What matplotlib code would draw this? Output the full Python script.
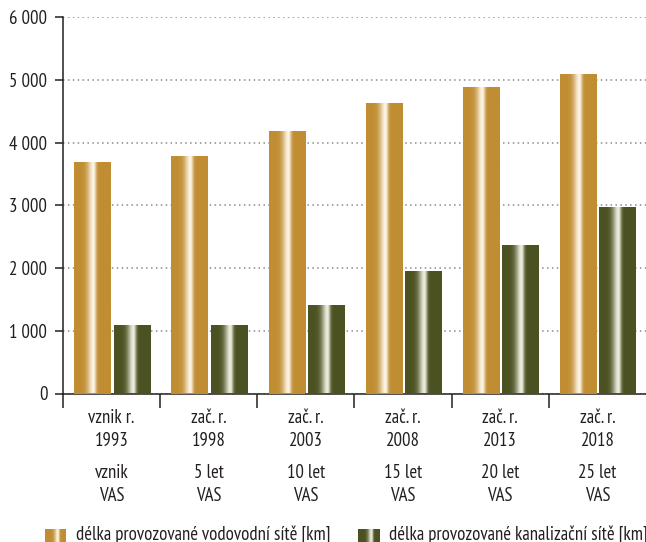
import numpy as np
import matplotlib
matplotlib.use("Agg")
import matplotlib.pyplot as plt
from matplotlib.ticker import FuncFormatter, FixedLocator
from matplotlib import transforms

plt.rcParams['font.family'] = ['PT Sans Narrow', 'DejaVu Sans']

# --- data -------------------------------------------------------------
year_lines = [("vznik r.", "1993"), ("zač. r.", "1998"), ("zač. r.", "2003"),
              ("zač. r.", "2008"), ("zač. r.", "2013"), ("zač. r.", "2018")]
anniversary_lines = [("vznik", "VAS"), ("5 let", "VAS"), ("10 let", "VAS"),
                     ("15 let", "VAS"), ("20 let", "VAS"), ("25 let", "VAS")]
water_km = [3690, 3780, 4190, 4630, 4890, 5100]
sewer_km = [1090, 1090, 1410, 1955, 2370, 2970]
series_labels = ["délka provozované vodovodní sítě [km]",
                 "délka provozované kanalizační sítě [km]"]
y_ticks = [0, 1000, 2000, 3000, 4000, 5000, 6000]

GOLD = np.array([192, 141, 50]) / 255
OLIVE = np.array([76, 81, 34]) / 255
GOLD_PEAK = [252, 244, 228]
OLIVE_PEAK = [236, 236, 222]
TEXT = "#231f20"
FS = 13.5


def shine(base, peak, n=200, centre=0.53):
    """Horizontal metallic gradient with a bright stripe."""
    t = np.linspace(0, 1, n)
    s = np.where(t < centre, 0.16, 0.075)
    w = np.exp(-((t - centre) / s) ** 2)
    peak = np.asarray(peak) / 255
    rgb = base[None, :] * (1 - w[:, None]) + peak[None, :] * w[:, None]
    return rgb[None, :, :]


gold_img = shine(GOLD, GOLD_PEAK)
olive_img = shine(OLIVE, OLIVE_PEAK)

W, H = 646, 542
fig = plt.figure(figsize=(W / 100, H / 100), dpi=100)
ax = fig.add_axes([63 / W, 1 - 393.5 / H, (W - 63) / W, (393.5 - 17.3) / H])

x = np.arange(len(year_lines))
bw = 0.38
gold_bars = ax.bar(x - 0.195, water_km, bw, color=GOLD, zorder=3, linewidth=0)
olive_bars = ax.bar(x + 0.21, sewer_km, bw, color=OLIVE, zorder=3, linewidth=0)

for bars, img in ((gold_bars, gold_img), (olive_bars, olive_img)):
    for b in bars:
        x0, y0 = b.get_x(), b.get_y()
        im = ax.imshow(img, extent=(x0, x0 + b.get_width(), y0, y0 + b.get_height()),
                       aspect="auto", interpolation="bilinear", zorder=4)
        im.set_clip_path(b)

ax.set_xlim(-0.5, len(year_lines) - 0.5)
ax.set_ylim(0, 6000)

# axes styling
for side in ("top", "right"):
    ax.spines[side].set_visible(False)
for side in ("left", "bottom"):
    ax.spines[side].set_color(TEXT)
    ax.spines[side].set_linewidth(1.1)

ax.set_yticks(y_ticks)
ax.yaxis.set_major_formatter(FuncFormatter(lambda v, p: f"{int(v):,}".replace(",", " ")))
ax.tick_params(axis="y", length=5.8, width=1.1, color=TEXT, pad=5.5,
               labelsize=FS, labelcolor=TEXT)
ax.yaxis.grid(True, linestyle=(0, (1, 2.2)), color="#8a8a8a", linewidth=1.1, zorder=1)
ax.set_axisbelow(True)

ax.set_xticks([])
ax.xaxis.set_minor_locator(FixedLocator(np.arange(-0.5, len(year_lines) - 0.5, 1.0)))
ax.tick_params(axis="x", which="minor", length=10, width=1.1, color=TEXT, direction="out")

# category labels below the axis, one text per line on fixed baselines
trans = transforms.blended_transform_factory(ax.transData, fig.transFigure)
baselines = [423, 446, 478, 501]
for i in range(len(year_lines)):
    rows = list(year_lines[i]) + list(anniversary_lines[i])
    for txt, by in zip(rows, baselines):
        ax.text(i, 1 - by / H, txt, transform=trans, ha="center", va="baseline",
                fontsize=FS, color=TEXT, clip_on=False)

# legend swatches and labels
for (x0, x1, tx), base, peak, lab in (((45, 66, 76), GOLD, GOLD_PEAK, series_labels[0]),
                                      ((358, 380, 389), OLIVE, OLIVE_PEAK, series_labels[1])):
    sw = fig.add_axes([x0 / W, 0, (x1 - x0) / W, 13 / H])
    sw.imshow(shine(base, peak, centre=0.62), aspect="auto", interpolation="bilinear")
    sw.axis("off")
    fig.text(tx / W, 2.5 / H, lab, ha="left", va="baseline", fontsize=FS, color=TEXT)

fig.savefig("out.png", dpi=100)
